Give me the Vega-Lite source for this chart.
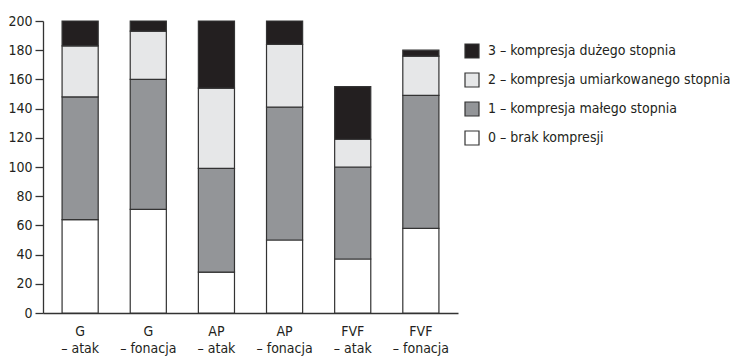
{
  "$schema": "https://vega.github.io/schema/vega-lite/v6.json",
  "autosize": {"type": "none"},
  "padding": {"left": 43, "top": 21, "right": 286, "bottom": 50},
  "width": 415,
  "height": 292,
  "background": "white",
  "config": {
    "view": {"stroke": null},
    "font": "'DejaVu Sans Condensed', 'Liberation Sans Narrow', 'Liberation Sans', sans-serif",
    "axis": {"grid": false, "domainColor": "#333333", "tickColor": "#333333", "labelColor": "#231f20", "labelFont": "'DejaVu Sans Condensed', 'Liberation Sans Narrow', 'Liberation Sans', sans-serif", "labelFontSize": 14, "domainWidth": 1.3, "tickWidth": 1.3}
  },
  "data": {
    "values": [
      {"grupa": "G – atak", "k": 0, "stopien": "0 – brak kompresji", "n": 64},
      {"grupa": "G – atak", "k": 1, "stopien": "1 – kompresja małego stopnia", "n": 84},
      {"grupa": "G – atak", "k": 2, "stopien": "2 – kompresja umiarkowanego stopnia", "n": 35},
      {"grupa": "G – atak", "k": 3, "stopien": "3 – kompresja dużego stopnia", "n": 17},
      {"grupa": "G – fonacja", "k": 0, "stopien": "0 – brak kompresji", "n": 71},
      {"grupa": "G – fonacja", "k": 1, "stopien": "1 – kompresja małego stopnia", "n": 89},
      {"grupa": "G – fonacja", "k": 2, "stopien": "2 – kompresja umiarkowanego stopnia", "n": 33},
      {"grupa": "G – fonacja", "k": 3, "stopien": "3 – kompresja dużego stopnia", "n": 7},
      {"grupa": "AP – atak", "k": 0, "stopien": "0 – brak kompresji", "n": 28},
      {"grupa": "AP – atak", "k": 1, "stopien": "1 – kompresja małego stopnia", "n": 71},
      {"grupa": "AP – atak", "k": 2, "stopien": "2 – kompresja umiarkowanego stopnia", "n": 55},
      {"grupa": "AP – atak", "k": 3, "stopien": "3 – kompresja dużego stopnia", "n": 46},
      {"grupa": "AP – fonacja", "k": 0, "stopien": "0 – brak kompresji", "n": 50},
      {"grupa": "AP – fonacja", "k": 1, "stopien": "1 – kompresja małego stopnia", "n": 91},
      {"grupa": "AP – fonacja", "k": 2, "stopien": "2 – kompresja umiarkowanego stopnia", "n": 43},
      {"grupa": "AP – fonacja", "k": 3, "stopien": "3 – kompresja dużego stopnia", "n": 16},
      {"grupa": "FVF – atak", "k": 0, "stopien": "0 – brak kompresji", "n": 37},
      {"grupa": "FVF – atak", "k": 1, "stopien": "1 – kompresja małego stopnia", "n": 63},
      {"grupa": "FVF – atak", "k": 2, "stopien": "2 – kompresja umiarkowanego stopnia", "n": 19},
      {"grupa": "FVF – atak", "k": 3, "stopien": "3 – kompresja dużego stopnia", "n": 36},
      {"grupa": "FVF – fonacja", "k": 0, "stopien": "0 – brak kompresji", "n": 58},
      {"grupa": "FVF – fonacja", "k": 1, "stopien": "1 – kompresja małego stopnia", "n": 91},
      {"grupa": "FVF – fonacja", "k": 2, "stopien": "2 – kompresja umiarkowanego stopnia", "n": 27},
      {"grupa": "FVF – fonacja", "k": 3, "stopien": "3 – kompresja dużego stopnia", "n": 4}
    ]
  },
  "mark": {"type": "bar", "stroke": "#333333", "strokeWidth": 1.2},
  "encoding": {
    "x": {
      "field": "grupa", "type": "nominal", "sort": null, "title": null,
      "scale": {"paddingInner": 0.47, "paddingOuter": 0.28},
      "axis": {"labelAngle": 0, "ticks": false, "labelPadding": 11, "labelLineHeight": 17,
        "labelExpr": "[split(datum.label, ' – ')[0], '– ' + split(datum.label, ' – ')[1]]"}
    },
    "y": {
      "field": "n", "type": "quantitative", "stack": "zero", "title": null,
      "scale": {"domain": [0, 200], "nice": false},
      "axis": {"values": [0, 20, 40, 60, 80, 100, 120, 140, 160, 180, 200], "tickSize": 8, "labelPadding": 3}
    },
    "order": {"field": "k", "type": "quantitative", "sort": "ascending"},
    "color": {
      "field": "stopien", "type": "nominal", "title": null,
      "scale": {
        "domain": ["3 – kompresja dużego stopnia", "2 – kompresja umiarkowanego stopnia", "1 – kompresja małego stopnia", "0 – brak kompresji"],
        "range": ["#231f20", "#e6e7e8", "#939598", "#ffffff"]
      },
      "legend": {
        "orient": "none", "legendX": 421, "legendY": 22,
        "symbolType": "square", "symbolSize": 196, "symbolStrokeColor": "#333333", "symbolStrokeWidth": 1.2,
        "labelFontSize": 14, "labelColor": "#231f20", "labelFont": "'DejaVu Sans Condensed', 'Liberation Sans Narrow', 'Liberation Sans', sans-serif", "rowPadding": 9, "labelOffset": 8, "labelLimit": 400
      }
    }
  }
}
